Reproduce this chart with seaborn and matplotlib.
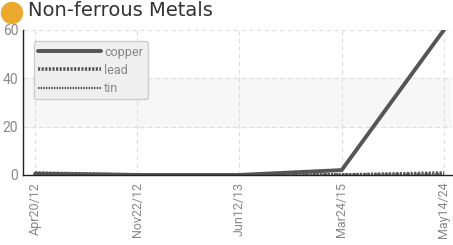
import numpy as np
import pandas as pd
import matplotlib
matplotlib.use('Agg')
import matplotlib.pyplot as plt
from matplotlib.patches import Circle
import seaborn as sns

dates = ['Apr20/12', 'Nov22/12', 'Jun12/13', 'Mar24/15', 'May14/24']
copper = [0.5, 0.0, 0.0, 2.0, 60.0]
lead = [0.8, 0.0, 0.0, 0.0, 0.8]
tin = [0.3, 0.2, 0.2, 0.2, 0.3]
y_ticks = [0, 20, 40, 60]

sns.set_style('white')
plt.rcParams['font.family'] = ['DejaVu Sans']
narrow = 'Roboto'

dframe = pd.DataFrame({'date': dates * 3,
                       'value': copper + lead + tin,
                       'metal': ['copper'] * 5 + ['lead'] * 5 + ['tin'] * 5})

fig = plt.figure(figsize=(4.53, 2.45), dpi=100)
ax = fig.add_axes([0.051, 0.286, 0.947, 0.592])

ax.axhspan(20, 40, color='#f7f7f7', zorder=0)

styles = {'copper': dict(lw=2.8, ls='-'),
          'lead': dict(lw=2.6, ls=(0, (0.6, 0.4))),
          'tin': dict(lw=1.6, ls=(0, (0.7, 0.5)))}
for metal in ['copper', 'lead', 'tin']:
    sns.lineplot(data=dframe[dframe['metal'] == metal], x='date', y='value',
                 sort=False, color='#555555', label=metal, ax=ax,
                 linewidth=styles[metal]['lw'], linestyle=styles[metal]['ls'])

ax.set_xlim(-0.117, 4.08)
ax.set_ylim(0, 60)
ax.set_yticks(y_ticks)
ax.set_xlabel('')
ax.set_ylabel('')
ax.grid(True, color='#dddddd', linestyle=(0, (4, 3)), linewidth=0.8)
ax.set_axisbelow(True)

for s in ['top', 'right']:
    ax.spines[s].set_visible(False)
ax.spines['left'].set_color('#222222')
ax.spines['bottom'].set_color('#222222')
ax.spines['left'].set_linewidth(1.0)
ax.spines['bottom'].set_linewidth(1.0)

ax.tick_params(axis='y', direction='inout', length=5, colors='#222222',
               labelcolor='#888888', labelsize=10, pad=1)
ax.tick_params(axis='x', direction='out', length=3, colors='#222222',
               labelcolor='#888888', labelsize=9, rotation=90, pad=2)
for lab in ax.get_xticklabels() + ax.get_yticklabels():
    lab.set_family(narrow)

leg = ax.legend(loc='upper left', bbox_to_anchor=(0.01, 0.965), frameon=True,
                fancybox=True, handlelength=5.0, handletextpad=0.3,
                labelspacing=0.42, borderpad=0.35,
                prop={'family': narrow, 'size': 9})
leg.get_frame().set_facecolor('#efefef')
leg.get_frame().set_edgecolor('#cccccc')
leg.get_frame().set_alpha(1)
for t in leg.get_texts():
    t.set_color('#888888')

fig.patches.append(Circle((12, 232), 10.5, transform=None, color='#eba92f'))
fig.text(28 / 453, 1 - 11 / 245, 'Non-ferrous Metals', fontsize=14,
         color='#333333', va='center', ha='left')

plt.savefig('out.png', dpi=100)
